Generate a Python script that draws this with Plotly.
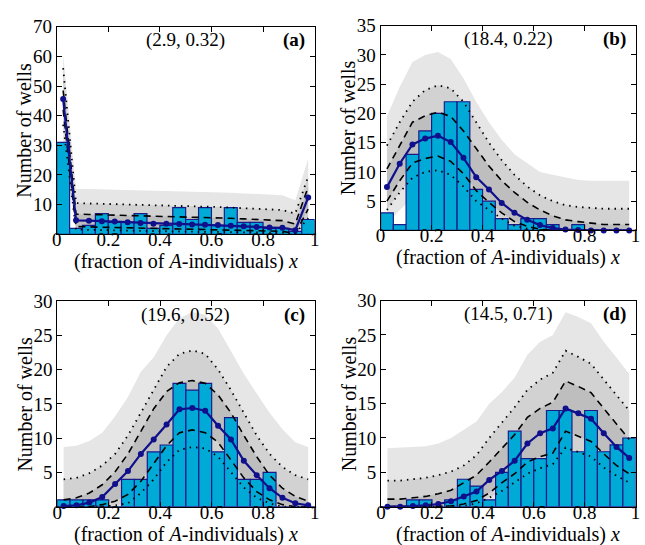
import plotly.graph_objects as go

# bin centres (20 bins of width 0.05)
x_centres = [0.025, 0.075, 0.125, 0.175, 0.225, 0.275, 0.325, 0.375, 0.425, 0.475,
             0.525, 0.575, 0.625, 0.675, 0.725, 0.775, 0.825, 0.875, 0.925, 0.975]
x_ticks = [0, 0.2, 0.4, 0.6, 0.8, 1]
x_ticktext = ["0", "0.2", "0.4", "0.6", "0.8", "1"]

# (a)
a_counts = [31, 2, 3, 7, 4, 4, 7, 2, 3, 9, 5, 9, 3, 9, 4, 4, 2, 2, 1, 5]
a_mean = [45.6, 4.7, 4.6, 4.4, 4.3, 4.1, 3.8, 3.6, 3.6, 3.5, 3.3, 3.2, 3.1, 2.9, 2.7, 2.5, 2.3, 2.2, 1.4, 12.4]
a_light_hi = [61, 15.4, 15.3, 15.2, 15.0, 15.0, 14.9, 14.8, 14.7, 14.6, 14.4, 14.3, 14.2, 14.0, 13.8, 13.6, 13.4, 13.2, 11.5, 25.5]
a_dot_hi = [56, 10.5, 10.4, 10.3, 10.2, 10.1, 10.0, 9.9, 9.8, 9.6, 9.5, 9.3, 9.2, 9.0, 8.8, 8.6, 8.4, 8.2, 7.0, 19.5]
a_dash_hi = [48.5, 6.8, 6.7, 6.6, 6.5, 6.4, 6.3, 6.2, 6.1, 6.0, 5.8, 5.7, 5.6, 5.4, 5.2, 5.0, 4.8, 4.6, 3.5, 16]
a_dash_lo = [42, 2.6, 2.5, 2.4, 2.3, 2.2, 2.1, 2.0, 1.9, 1.8, 1.7, 1.6, 1.5, 1.4, 1.3, 1.2, 1.1, 1.0, 0.3, 8.5]
a_dot_lo = [37, 1.6, 1.5, 1.4, 1.3, 1.2, 1.2, 1.1, 1.0, 1.0, 0.9, 0.8, 0.8, 0.7, 0.6, 0.6, 0.5, 0.5, 0.1, 5.5]
a_light_lo = [31, 0.5, 0.5, 0.4, 0.4, 0.3, 0.3, 0.3, 0.2, 0.2, 0.2, 0.2, 0.1, 0.1, 0.1, 0.1, 0.1, 0.1, 0, 2]

# (b)
b_counts = [3, 1, 13, 17, 20, 22, 22, 7, 5, 2, 1, 2, 2, 1, 0, 1, 0, 0, 0, 0]
b_mean = [7.4, 11.4, 14.7, 15.7, 16.2, 15.1, 12.4, 9.1, 7.0, 4.7, 3.0, 1.8, 0.9, 0.4, 0.15, 0.05, 0, 0, 0, 0]
b_light_hi = [19.5, 24.5, 28.8, 30.0, 30.5, 29.3, 26.0, 22.0, 18.5, 15.5, 13.0, 11.5, 10.0, 9.5, 9.0, 8.6, 8.5, 8.5, 8.5, 8.5]
b_dot_hi = [14.5, 18.5, 22.0, 24.0, 24.8, 24.3, 22.0, 18.5, 15.0, 12.0, 9.5, 7.5, 6.0, 5.0, 4.3, 4.0, 3.8, 3.7, 3.7, 3.7]
b_dash_hi = [10.5, 14.5, 18.5, 19.6, 20.2, 19.5, 17.0, 14.0, 11.0, 8.5, 6.5, 4.8, 3.5, 2.5, 1.8, 1.5, 1.2, 1.0, 1.0, 1.0]
b_dash_lo = [5.0, 8.5, 11.5, 12.3, 12.7, 11.8, 9.7, 6.8, 4.8, 3.0, 1.5, 0.7, 0.2, 0, 0, 0, 0, 0, 0, 0]
b_dot_lo = [3.5, 6.5, 9.0, 10.0, 10.3, 9.5, 7.5, 5.0, 3.5, 2.0, 0.8, 0.3, 0, 0, 0, 0, 0, 0, 0, 0]
b_light_lo = [1.0, 3.5, 5.5, 6.5, 7.0, 6.3, 4.8, 3.0, 1.8, 0.8, 0.2, 0, 0, 0, 0, 0, 0, 0, 0, 0]

# (c)
c_counts = [1, 1, 1, 1, 0, 4, 4, 8, 9, 18, 17, 18, 8, 13, 4, 4, 5, 0, 0, 0]
c_mean = [0.1, 0.2, 0.6, 1.4, 3.3, 5.2, 7.7, 9.8, 12.0, 14.2, 14.4, 14.0, 11.8, 9.8, 6.7, 4.6, 2.7, 1.3, 0.5, 0.2]
c_light_hi = [8.7, 8.9, 9.6, 10.8, 13.2, 16.0, 19.7, 21.8, 25.0, 27.5, 28.4, 28.0, 26.0, 22.8, 19.4, 16.5, 13.7, 11.3, 9.4, 8.7]
c_dot_hi = [4.0, 4.2, 4.9, 6.0, 7.7, 10.4, 13.7, 17.0, 20.4, 22.3, 22.8, 22.3, 20.0, 17.0, 13.7, 10.4, 7.7, 5.8, 4.6, 4.0]
c_dash_hi = [1.0, 1.3, 2.0, 3.2, 5.1, 7.7, 11.0, 14.3, 16.8, 18.1, 18.4, 18.0, 16.3, 13.7, 10.4, 7.3, 4.6, 2.7, 1.5, 0.8]
c_dash_lo = [0, 0, 0, 0.3, 0.8, 1.8, 3.7, 6.3, 8.9, 10.8, 11.2, 10.8, 9.4, 6.8, 4.2, 2.2, 1.0, 0.3, 0, 0]
c_dot_lo = [0, 0, 0, 0, 0.2, 0.5, 2.0, 4.0, 6.5, 8.3, 8.7, 8.5, 7.3, 5.0, 2.8, 1.3, 0.5, 0, 0, 0]
c_light_lo = [0, 0, 0, 0, 0, 0, 0.5, 1.5, 3.5, 5.0, 5.5, 5.3, 4.3, 2.5, 1.0, 0.3, 0, 0, 0, 0]

# (d)
d_counts = [0, 0, 1, 1, 0, 1, 4, 3, 1, 5, 11, 7, 7, 14, 14, 8, 14, 8, 9, 10]
d_mean = [0, 0, 0.1, 0.2, 0.4, 0.8, 1.5, 2.2, 3.9, 5.2, 6.7, 9.2, 10.7, 11.4, 14.3, 13.6, 12.8, 10.7, 8.7, 7.1]
d_light_hi = [8.5, 8.6, 8.7, 8.8, 9.2, 10.0, 11.2, 12.4, 15.0, 16.7, 18.8, 22.1, 24.0, 25.0, 28.3, 27.6, 26.7, 24.0, 21.7, 19.3]
d_dot_hi = [3.8, 3.8, 4.0, 4.2, 4.6, 5.1, 6.0, 7.5, 10.0, 12.2, 14.5, 17.0, 18.5, 19.5, 22.7, 21.8, 20.8, 18.5, 16.2, 14.0]
d_dash_hi = [1.1, 1.1, 1.3, 1.5, 1.9, 2.4, 3.5, 4.6, 6.5, 8.5, 10.5, 13.0, 14.3, 15.2, 18.3, 17.5, 16.6, 14.3, 12.0, 9.8]
d_dash_lo = [0, 0, 0, 0, 0, 0.1, 0.4, 0.9, 2.0, 3.5, 4.8, 6.5, 7.3, 7.8, 11.0, 10.3, 9.5, 7.7, 6.0, 4.8]
d_dot_lo = [0, 0, 0, 0, 0, 0, 0.1, 0.5, 1.3, 2.3, 3.5, 4.8, 5.6, 6.2, 8.6, 8.0, 7.3, 5.7, 4.5, 3.5]
d_light_lo = [0, 0, 0, 0, 0, 0, 0, 0.1, 0.5, 1.2, 2.0, 3.0, 3.7, 4.2, 6.0, 5.5, 5.0, 3.8, 2.8, 2.2]

panels = [
    dict(name="a", params="(2.9, 0.32)", ymax=70, yticks=[10, 20, 30, 40, 50, 60, 70],
         counts=a_counts, mean=a_mean, light=(a_light_lo, a_light_hi),
         dot=(a_dot_lo, a_dot_hi), dash=(a_dash_lo, a_dash_hi),
         box=(52.5, 314.5, 17, 228.5)),
    dict(name="b", params="(18.4, 0.22)", ymax=35, yticks=[5, 10, 15, 20, 25, 30, 35],
         counts=b_counts, mean=b_mean, light=(b_light_lo, b_light_hi),
         dot=(b_dot_lo, b_dot_hi), dash=(b_dash_lo, b_dash_hi),
         box=(381.5, 640.5, 16, 224.5)),
    dict(name="c", params="(19.6, 0.52)", ymax=30, yticks=[5, 10, 15, 20, 25, 30],
         counts=c_counts, mean=c_mean, light=(c_light_lo, c_light_hi),
         dot=(c_dot_lo, c_dot_hi), dash=(c_dash_lo, c_dash_hi),
         box=(53, 314.5, 296.5, 506)),
    dict(name="d", params="(14.5, 0.71)", ymax=30, yticks=[5, 10, 15, 20, 25, 30],
         counts=d_counts, mean=d_mean, light=(d_light_lo, d_light_hi),
         dot=(d_dot_lo, d_dot_hi), dash=(d_dash_lo, d_dash_hi),
         box=(382, 640.5, 296, 506)),
]

W, H = 645, 545
FONT = "Liberation Serif"
LIGHT = "#e6e6e6"
MID = "#d2d2d2"
DARK = "#bebebe"
BAR = "#00aad6"
NAVY = "#10108c"

fig = go.Figure()
layout = dict(width=W, height=H, margin=dict(l=0, r=0, t=0, b=0),
              paper_bgcolor="white", plot_bgcolor="white", showlegend=False,
              barmode="overlay", font=dict(family=FONT, size=20, color="black"))
annotations = []

for i, p in enumerate(panels):
    k = i + 1
    sfx = "" if k == 1 else str(k)
    xa, ya = "x" + sfx, "y" + sfx
    # overlay axes so that bars and lines sit above the grey bands
    xo, yo = "x" + str(k + 4), "y" + str(k + 4)
    x0, x1, y0, y1 = p["box"]

    # nested grey bands
    for (lo, hi), col in [(p["light"], LIGHT), (p["dot"], MID), (p["dash"], DARK)]:
        fig.add_trace(go.Scatter(x=x_centres, y=lo, mode="lines", line=dict(width=0),
                                 hoverinfo="skip", xaxis=xa, yaxis=ya))
        fig.add_trace(go.Scatter(x=x_centres, y=hi, mode="lines", line=dict(width=0),
                                 fill="tonexty", fillcolor=col, hoverinfo="skip",
                                 xaxis=xa, yaxis=ya))

    fig.add_trace(go.Bar(x=x_centres, y=p["counts"], width=0.05,
                         marker=dict(color=BAR, line=dict(color="#1a1a8a", width=1.2)),
                         xaxis=xo, yaxis=yo))

    for arr in p["dash"]:
        fig.add_trace(go.Scatter(x=x_centres, y=arr, mode="lines",
                                 line=dict(color="black", width=1.6, dash="7px,5px"),
                                 xaxis=xo, yaxis=yo))
    for arr in p["dot"]:
        fig.add_trace(go.Scatter(x=x_centres, y=arr, mode="lines",
                                 line=dict(color="black", width=1.8, dash="1.5px,5px"),
                                 xaxis=xo, yaxis=yo))

    fig.add_trace(go.Scatter(x=x_centres, y=p["mean"], mode="lines+markers",
                             line=dict(color=NAVY, width=2.2),
                             marker=dict(color=NAVY, size=6),
                             xaxis=xo, yaxis=yo, cliponaxis=False))

    layout["xaxis" + sfx] = dict(
        domain=[x0 / W, x1 / W], range=[0, 1], anchor=ya,
        tickvals=x_ticks, ticktext=x_ticktext, ticks="inside", ticklen=5,
        tickcolor="black", showline=True, linecolor="black", linewidth=1,
        mirror="allticks", showgrid=False, zeroline=False, ticklabelstandoff=-12,
        tickfont=dict(family=FONT, size=19))
    layout["yaxis" + sfx] = dict(
        domain=[1 - y1 / H, 1 - y0 / H], range=[0, p["ymax"]], anchor=xa,
        tickvals=p["yticks"], ticks="inside", ticklen=5, tickcolor="black",
        showline=True, linecolor="black", linewidth=1, mirror="allticks",
        showgrid=False, zeroline=False, tickfont=dict(family=FONT, size=19))
    layout["xaxis" + str(k + 4)] = dict(
        overlaying=xa, anchor=yo, range=[0, 1], visible=False)
    layout["yaxis" + str(k + 4)] = dict(
        overlaying=ya, anchor=xo, range=[0, p["ymax"]], visible=False)

    cx = (x0 + x1) / 2
    annotations += [
        dict(x=cx / W, y=1 - (y0 + 14) / H, xref="paper", yref="paper",
             text=p["params"], showarrow=False, font=dict(family=FONT, size=19),
             xanchor="center", yanchor="middle"),
        dict(x=(x1 - 8) / W, y=1 - (y0 + 14) / H, xref="paper", yref="paper",
             text="<b>(" + p["name"] + ")</b>", showarrow=False,
             font=dict(family=FONT, size=19), xanchor="right", yanchor="middle"),
        dict(x=cx / W, y=1 - (y1 + 28) / H, xref="paper", yref="paper",
             text="(fraction of <i>A</i>-individuals) <i>x</i>", showarrow=False,
             font=dict(family=FONT, size=20), xanchor="center", yanchor="middle"),
        dict(x=(x0 - 33) / W, y=1 - (y0 + y1) / 2 / H, xref="paper", yref="paper",
             text="Number of wells", textangle=-90, showarrow=False,
             font=dict(family=FONT, size=20), xanchor="center", yanchor="middle"),
    ]

layout["annotations"] = annotations
fig.update_layout(**layout)
fig.write_html("out.html", config={"displayModeBar": False},
               post_script="document.body.style.margin='0';")
